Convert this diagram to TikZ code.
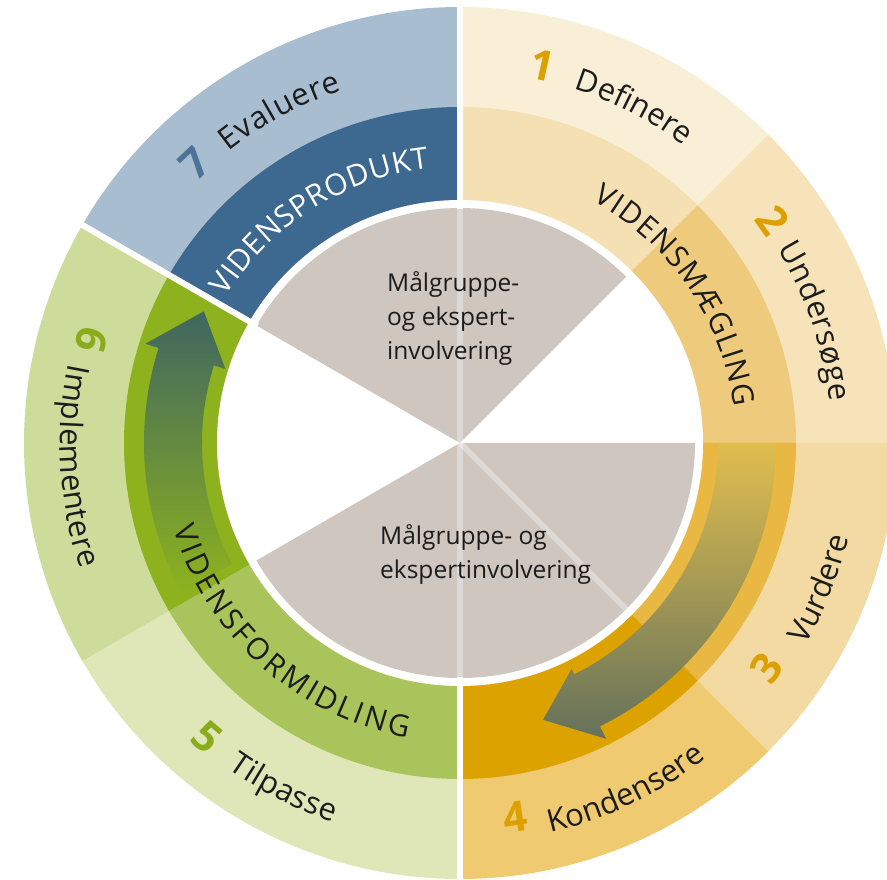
\documentclass[tikz,border=0pt]{standalone}
\usepackage{fontspec}
\setmainfont{Open Sans}
\usetikzlibrary{decorations.text}
% outer ring
\definecolor{oSeven}{HTML}{A9BDD0}
\definecolor{oOne}{HTML}{F9EED6}
\definecolor{oTwo}{HTML}{F6E3B9}
\definecolor{oThree}{HTML}{F3DAA2}
\definecolor{oFour}{HTML}{EFCA70}
\definecolor{oFive}{HTML}{DFE7B8}
\definecolor{oSix}{HTML}{CDDB9B}
% middle ring
\definecolor{mBlue}{HTML}{3D6890}
\definecolor{mOne}{HTML}{F4E0B2}
\definecolor{mTwo}{HTML}{EDCA7C}
\definecolor{mThree}{HTML}{E8B843}
\definecolor{mFour}{HTML}{DCA200}
\definecolor{mFive}{HTML}{A9C45A}
\definecolor{mSix}{HTML}{8DB21E}
\definecolor{pie}{HTML}{CEC6BF}
\definecolor{txt}{HTML}{1C1C1C}
\definecolor{numGold}{HTML}{DCA000}
\definecolor{numGreen}{HTML}{8AAC1C}
\definecolor{numBlue}{HTML}{4B7397}
\definecolor{gArrTop}{HTML}{3F6660}
\definecolor{gArrMid}{HTML}{64953A}
\definecolor{yArrTop}{HTML}{E0BE4E}
\definecolor{yArrMid}{HTML}{98AA86}
\definecolor{yArrBot}{HTML}{65715B}
\newcommand\lblfont{\fontsize{31pt}{36pt}\selectfont}
\newcommand\ringfont{\fontsize{30pt}{34pt}\selectfont}
\tikzset{
  num/.style={font=\fontsize{42pt}{42pt}\selectfont\bfseries, inner sep=0pt},
  ctext/.style={font=\fontsize{24.5pt}{34pt}\selectfont, text=txt, inner sep=0pt, align=left, anchor=west},
  curved/.style={decorate, decoration={text along path, text align=fit to path, text={#1}}},
  sepline/.style={white, line width=6pt},
  faintline/.style={white, opacity=0.35, line width=6pt}
}
\begin{document}
\begin{tikzpicture}
\useasboundingbox (-460pt,-437pt) rectangle (427pt,443pt);
\clip (-460pt,-437pt) rectangle (427pt,443pt);
\fill[white] (-460pt,-437pt) rectangle (427pt,443pt);

% outer ring sectors
\foreach \a/\b/\c in {90/150/oSeven, 45/90/oOne, 0/45/oTwo, -45/0/oThree, -90/-45/oFour, -150/-90/oFive, 150/210/oSix}
  \fill[\c] (0pt,0pt) -- (\a:436pt) arc[start angle=\a, end angle=\b, radius=436pt] -- cycle;
% middle ring sectors
\foreach \a/\b/\c in {90/150/mBlue, 45/90/mOne, 0/45/mTwo, -45/0/mThree, -90/-45/mFour, -150/-90/mFive, 150/210/mSix}
  \fill[\c] (0pt,0pt) -- (\a:336pt) arc[start angle=\a, end angle=\b, radius=336pt] -- cycle;
% white gap disk
\fill[white] (0pt,0pt) circle[radius=243pt];
% inner pie wedges
\fill[pie] (0pt,0pt) -- (45:235pt) arc[start angle=45, end angle=150, radius=235pt] -- cycle;
\fill[pie] (0pt,0pt) -- (210:235pt) arc[start angle=210, end angle=360, radius=235pt] -- cycle;
\draw[faintline] (0pt,0pt) -- (90:235pt);
\draw[faintline] (0pt,0pt) -- (270:235pt);
\draw[faintline] (0pt,0pt) -- (-45:235pt);

% arrows
\shade[top color=gArrTop, middle color=gArrMid, bottom color=mSix]
  (208:316pt) arc[start angle=208, end angle=162.5, radius=316pt]
  -- (162.5:330pt) -- (152.8:288pt) -- (162.5:246pt) -- (162.5:258pt)
  arc[start angle=162.5, end angle=208, radius=258pt] -- cycle;
\shade[top color=yArrTop, middle color=yArrMid, bottom color=yArrBot]
  (0:316pt) arc[start angle=0, end angle=-63.7, radius=316pt]
  -- (-63.7:330pt) -- (-73.3:289pt) -- (-63.7:252pt) -- (-63.7:258pt)
  arc[start angle=-63.7, end angle=0, radius=258pt] -- cycle;

% separating white lines
\draw[sepline] (90:234pt) -- (90:445pt);
\draw[sepline] (270:234pt) -- (270:445pt);
\draw[sepline] (150:234pt) -- (150:445pt);

% centre texts
\node[ctext] (topText) at (-73pt,125pt) {Målgruppe-\\og ekspert-\\involvering};
\node[ctext] (botText) at (-80pt,-111pt) {Målgruppe- og\\ekspertinvolvering};

% numbers
\node[num, text=numGold, rotate=-12.3] (n1) at (77.7:386pt) {1};
\node[num, text=numGold, rotate=-54.5] (n2) at (35.5:384pt) {2};
\node[num, text=numGold, rotate=53.7] (n3) at (-36.3:380pt) {3};
\node[num, text=numGold, rotate=8.4] (n4) at (-81.6:378pt) {4};
\node[num, text=numGreen, rotate=-40.7] (n5) at (229.3:388pt) {5};
\node[num, text=numGreen, rotate=-105.6] (n6) at (164.4:382pt) {6};
\node[num, text=numBlue, rotate=43.5] (n7) at (133.5:385pt) {7};

% step words (top half: clockwise, bottom half: counter-clockwise)
\path[curved={|\lblfont\color{txt}|Evaluere}] (128.5:372pt) arc[start angle=128.5, end angle=108.5, radius=372pt];
\path[curved={|\lblfont\color{txt}|Definere}] (72.2:372pt) arc[start angle=72.2, end angle=53.3, radius=372pt];
\path[curved={|\lblfont\color{txt}|Undersøge}] (31.5:372pt) arc[start angle=31.5, end angle=6.4, radius=372pt];
\path[curved={|\lblfont\color{txt}|Vurdere}] (-30.4:400pt) arc[start angle=-30.4, end angle=-14.4, radius=400pt];
\path[curved={|\lblfont\color{txt}|Kondensere}] (-77:400pt) arc[start angle=-77, end angle=-52, radius=400pt];
\path[curved={|\lblfont\color{txt}|Tilpasse}] (234.5:400pt) arc[start angle=234.5, end angle=251.5, radius=400pt];
\path[curved={|\lblfont\color{txt}|Implementere}] (168.5:400pt) arc[start angle=168.5, end angle=198.4, radius=400pt];

% ring labels
\path[curved={|\ringfont\color{white}|VIDENSPRODUKT}] (148:276pt) arc[start angle=148, end angle=96.4, radius=276pt];
\path[curved={|\ringfont\color{txt}|VIDENSMÆGLING}] (61.3:276pt) arc[start angle=61.3, end angle=7.5, radius=276pt];
\path[curved={|\ringfont\color{txt}|VIDENSFORMIDLING}] (196.7:299pt) arc[start angle=196.7, end angle=260, radius=299pt];
\end{tikzpicture}
\end{document}
